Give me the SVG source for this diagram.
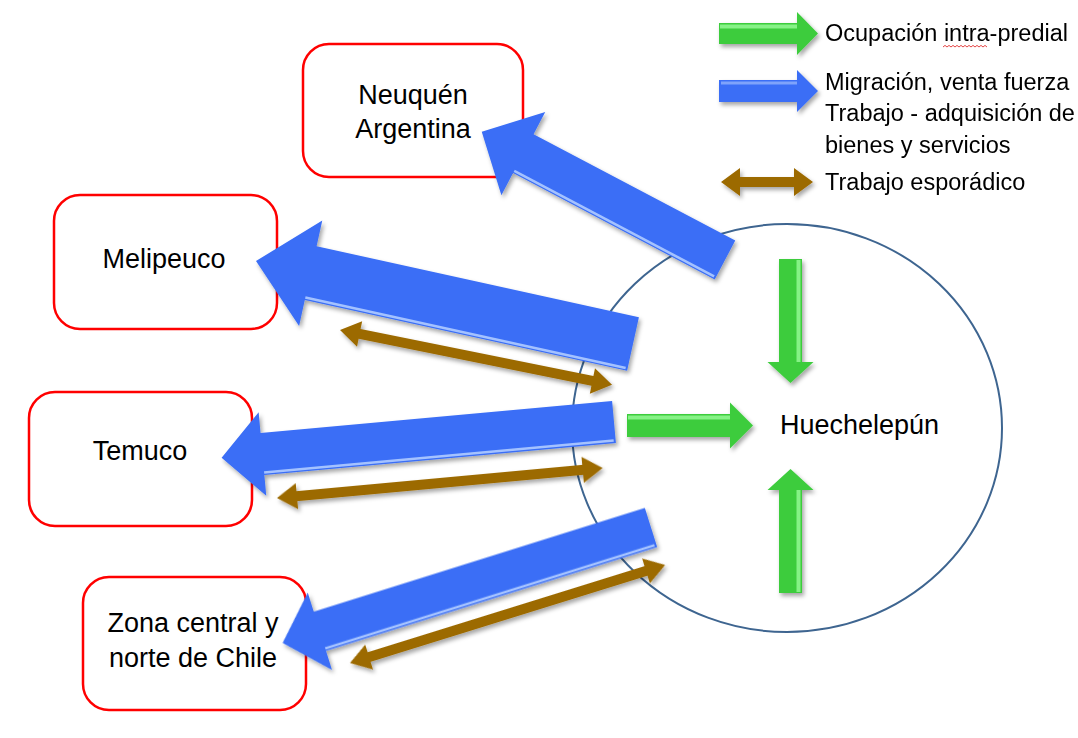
<svg xmlns="http://www.w3.org/2000/svg" width="1078" height="738" viewBox="0 0 1078 738">
<defs>
<style>
.box{fill:#fff;stroke:#ff0000;stroke-width:2.5}
.lbl{font-family:"Liberation Sans",Arial,sans-serif;font-size:27px;fill:#000}
.leg{font-family:"Liberation Sans",Arial,sans-serif;font-size:23.5px;fill:#000}
.blue{fill:#3a6ef6}
.bhl{fill:none;stroke:#a4c2ff;stroke-width:2.5}
.green{fill:#3dcc3d}
.ghl{fill:#86f286}
.brown{fill:#9c6a00}
</style>
<filter id="sh" x="-20%" y="-20%" width="140%" height="140%">
<feDropShadow dx="2" dy="3" stdDeviation="2" flood-color="#000" flood-opacity="0.35"/>
</filter>
</defs>
<rect width="1078" height="738" fill="#fff"/>

<g id="huechelepun">
<ellipse cx="787" cy="428" rx="215" ry="204" fill="#fff" stroke="#3e6590" stroke-width="2"/>
<text class="lbl" x="780" y="434" font-size="25.5">Huechelepún</text>
</g>

<g id="neuquen">
<rect class="box" x="303" y="44" width="220" height="133" rx="26"/>
<text class="lbl" x="413" y="104" text-anchor="middle">Neuquén</text>
<text class="lbl" x="413" y="138" text-anchor="middle">Argentina</text>
</g>
<g id="melipeuco">
<rect class="box" x="54" y="195" width="223" height="134" rx="26"/>
<text class="lbl" x="164" y="268" text-anchor="middle">Melipeuco</text>
</g>
<g id="temuco">
<rect class="box" x="29" y="392" width="223" height="134" rx="26"/>
<text class="lbl" x="140" y="460" text-anchor="middle">Temuco</text>
</g>
<g id="zona">
<rect class="box" x="83" y="577" width="223" height="133" rx="26"/>
<text class="lbl" x="193" y="632" text-anchor="middle">Zona central y</text>
<text class="lbl" x="193" y="667" text-anchor="middle">norte de Chile</text>
</g>

<g id="connectors">
<!-- green intra-predial arrows -->
<g filter="url(#sh)">
<g transform="translate(790.5,259) rotate(90)">
<polygon class="green" points="0,-11.5 103,-11.5 103,-23 124,0 103,23 103,11.5 0,11.5"/>
<rect class="ghl" x="1" y="-10" width="102" height="4"/>
</g>
<g transform="translate(790.5,593) rotate(-90)">
<polygon class="green" points="0,-11.5 103,-11.5 103,-23 124,0 103,23 103,11.5 0,11.5"/>
<rect class="ghl" x="1" y="6" width="102" height="4"/>
</g>
<g transform="translate(627,425.5)">
<polygon class="green" points="0,-11.5 103,-11.5 103,-23 126,0 103,23 103,11.5 0,11.5"/>
<rect class="ghl" x="1" y="-10" width="102" height="4"/>
</g>
</g>
<!-- blue migration arrows -->
<g filter="url(#sh)">
<g transform="translate(725,260) rotate(207.8)">
<polygon class="blue" points="0,-22 228,-22 228,-47 275,0 228,47 228,22 0,22"/>
<polyline class="bhl" points="2,-19.5 228,-19.5"/>
</g>
<g transform="translate(633,344) rotate(192.4)">
<polygon class="blue" points="0,-27.5 330,-27.5 330,-54 386,0 330,54 330,27.5 0,27.5"/>
<polyline class="bhl" points="2,-25 330,-25"/>
</g>
<g transform="translate(614,422) rotate(174.8)">
<polygon class="blue" points="0,-21 353,-21 353,-42 394,0 353,42 353,21 0,21"/>
<polyline class="bhl" points="2,-18.5 353,-18.5"/>
</g>
<g transform="translate(651,527.5) rotate(162.6)">
<polygon class="blue" points="0,-20.5 347,-20.5 347,-40.5 386,0 347,40.5 347,20.5 0,20.5"/>
<polyline class="bhl" points="2,-18 347,-18"/>
</g>
</g>
<!-- brown sporadic work arrows -->
<g filter="url(#sh)">
<polygon class="brown" transform="translate(340,330) rotate(11.4)" points="0,0 20,-13 20,-5 257.5,-5 257.5,-13 277.5,0 257.5,13 257.5,5 20,5 20,13"/>
<polygon class="brown" transform="translate(277,498) rotate(-5.26)" points="0,0 20,-13 20,-5 307,-5 307,-13 327,0 307,13 307,5 20,5 20,13"/>
<polygon class="brown" transform="translate(350,663) rotate(-17.28)" points="0,0 20,-13 20,-5 310,-5 310,-13 330,0 310,13 310,5 20,5 20,13"/>
</g>
</g>

<g id="legend">
<g filter="url(#sh)">
<g transform="translate(719,33.5)">
<polygon class="green" points="0,-10.5 78,-10.5 78,-21.5 99,0 78,21.5 78,10.5 0,10.5"/>
<rect class="ghl" x="1" y="-9" width="77" height="4"/>
</g>
<g transform="translate(719,91)">
<polygon class="blue" points="0,-11 78,-11 78,-21 99,0 78,21 78,11 0,11"/>
<polyline points="2,-8 78,-8" fill="none" stroke="#7fa3fb" stroke-width="3"/>
</g>
<polygon class="brown" transform="translate(721,182)" points="0,0 19,-14 19,-5 73,-5 73,-14 92,0 73,14 73,5 19,5 19,14"/>
</g>
<text class="leg" x="825" y="41">Ocupación intra-predial</text>
<path d="M943,47 l2,-1.6 l2,1.6 l2,-1.6 l2,1.6 l2,-1.6 l2,1.6 l2,-1.6 l2,1.6 l2,-1.6 l2,1.6 l2,-1.6 l2,1.6 l2,-1.6 l2,1.6 l2,-1.6 l2,1.6 l2,-1.6 l2,1.6 l2,-1.6 l2,1.6 l2,-1.6 l2,1.6" fill="none" stroke="#e03030" stroke-width="0.9"/>
<text class="leg" x="825" y="90">Migración, venta fuerza</text>
<text class="leg" x="825" y="121">Trabajo - adquisición de</text>
<text class="leg" x="825" y="153">bienes y servicios</text>
<text class="leg" x="825" y="190">Trabajo esporádico</text>
</g>
</svg>
